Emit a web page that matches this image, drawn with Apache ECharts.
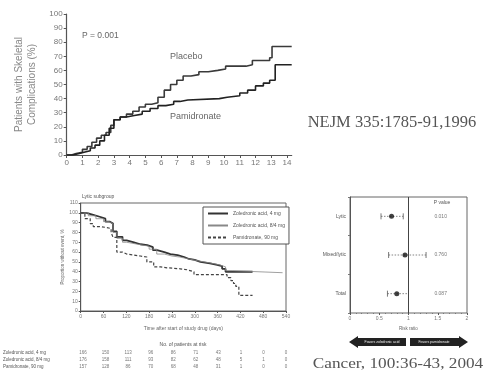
<!DOCTYPE html>
<html>
<head>
<meta charset="utf-8">
<script src="https://cdn.jsdelivr.net/npm/echarts@6/dist/echarts.min.js"></script>
<style>
  html, body { margin: 0; padding: 0; background: #fff; }
  #main { width: 484px; height: 370px; }
</style>
</head>
<body>
<div id="main"></div>
<script>
// top: NEJM 1996, cumulative skeletal complications (months, %)
const placebo = [[0,0],[0.3,1],[0.6,2],[1.0,4],[1.3,6],[1.6,9],[1.9,12],[2.2,14],[2.5,16],[2.8,21],[3.0,25],[3.4,27],[3.8,29],[4.2,31],[4.6,34],[5.0,36],[5.4,37],[5.8,41],[6.2,46],[6.6,50],[7.0,53],[7.4,56],[7.9,57],[8.4,59],[9.0,60],[9.6,61],[10.1,63],[10.8,63],[11.4,64],[11.8,67],[12.4,67],[12.9,69],[13.05,77],[14.3,77]];
const pamidronate = [[0,0],[0.4,1],[0.8,2],[1.1,3],[1.5,5],[1.8,7],[2.1,10],[2.4,14],[2.7,19],[3.0,25],[3.4,27],[3.8,28],[4.3,29],[4.8,31],[5.3,33],[5.8,35],[6.3,36],[6.8,38],[7.2,39],[7.7,40],[9.7,41],[10.2,42],[11.0,44],[11.5,46],[12.0,49],[12.5,51],[12.9,53],[13.25,64],[14.3,64]];
const monthTicks = [0,1,2,3,4,5,6,7,8,9,10,11,12,13,14];

// bottom left: Cancer 2004, lytic subgroup (days, % without event)
const zol4 = [[0,100],[15,98],[33,96],[50,94],[65,91],[77,89],[85,81],[95,75.5],[110,72],[121,70],[140,68],[157,67],[175,65],[190,62],[201,60],[220,58],[236,57],[255,55],[272,53],[285,52],[300,50],[315,48.5],[340,47],[359,45.7],[372,43],[381,40],[452,40]];
const zol84 = [[0,100],[20,97],[40,94],[60,91],[75,89],[85,80],[95,74],[110,70],[121,68],[150,66],[180,63],[200,58],[220,56],[240,55],[260,53],[285,51],[310,49],[340,47],[365,45],[381,41],[400,39],[531,39]];
const pam90 = [[0,100],[11,94],[25,89],[33,86],[50,85],[69,84],[80,80],[85,75],[95,60],[110,58],[121,57],[140,56],[157,55],[174,50],[192,45],[210,44],[227,43],[262,42],[280,40],[298,37],[368,37],[385,34],[395,31],[402,28],[408,25],[416,16],[452,16]];
const seriesNames = ['Zoledronic acid, 4 mg', 'Zoledronic acid, 8/4 mg', 'Pamidronate, 90 mg'];

// patients at risk
const riskDays = [0,60,120,180,240,300,360,420,480,540];
const riskRows = [
  [166,150,113,96,86,71,43,1,0,0],
  [176,158,111,93,82,62,48,5,1,0],
  [157,128,86,70,68,48,31,1,0,0]
];

// bottom right: risk ratios
const subgroups = ['Lytic', 'Mixed/lytic', 'Total'];
const ratio = [0.71, 0.94, 0.80];
const ciLow = [0.53, 0.66, 0.64];
const ciHigh = [0.91, 1.30, 1.0];
const pValues = ['0.010', '0.760', '0.087'];

const myChart = echarts.init(document.getElementById('main'));
const sans = 'Liberation Sans, Arial, sans-serif';
const serif = 'Liberation Serif, Times New Roman, serif';

const riskData = [];
riskRows.forEach(function (row, r) {
  row.forEach(function (v, c) {
    riskData.push([riskDays[c], r, v]);
  });
});

const tinyAxis = function (size) {
  return {
    axisLine: { lineStyle: { color: '#555', width: 1 } },
    axisTick: { show: true, length: 2, lineStyle: { color: '#555' } },
    axisLabel: { color: '#777', fontSize: size, fontFamily: sans, margin: 3 },
    splitLine: { show: false }
  };
};

const option = {
  animation: false,
  backgroundColor: '#fff',
  grid: [
    { left: 66.7, right: 192.3, top: 14, bottom: 215 },
    { left: 80.7, right: 198, top: 203, bottom: 59, show: true, borderColor: '#666', borderWidth: 1 },
    { left: 80.7, right: 198, top: 349, height: 24 },
    { left: 350, right: 17, top: 197, bottom: 57, show: true, borderColor: '#666', borderWidth: 1 }
  ],
  legend: {
    data: seriesNames,
    orient: 'vertical',
    left: 203,
    top: 207,
    padding: [4, 4, 4, 4],
    itemGap: 7,
    itemWidth: 20,
    itemHeight: 5,
    borderColor: '#555',
    borderWidth: 1,
    backgroundColor: '#fff',
    itemStyle: { opacity: 0 },
    textStyle: { fontSize: 5, color: '#555', fontFamily: sans }
  },
  xAxis: [
    Object.assign(tinyAxis(8), {
      gridIndex: 0, type: 'value', min: 0, max: 14.3, interval: 1,
      axisLine: { lineStyle: { color: '#555', width: 1.2 } },
      axisTick: { show: true, length: 3, customValues: monthTicks, lineStyle: { color: '#555' } },
      axisLabel: { color: '#777', fontSize: 8, fontFamily: sans, margin: 4, customValues: monthTicks }
    }),
    Object.assign(tinyAxis(5), {
      gridIndex: 1, type: 'value', min: 0, max: 540, interval: 60,
      name: 'Time after start of study drug (days)', nameLocation: 'middle', nameGap: 15,
      nameTextStyle: { fontSize: 5, color: '#666', fontFamily: sans }
    }),
    { gridIndex: 2, type: 'value', min: 0, max: 540, show: false },
    Object.assign(tinyAxis(5), {
      gridIndex: 3, type: 'value', min: 0, max: 2, interval: 0.5,
      minorTick: { show: true, splitNumber: 5, length: 1, lineStyle: { color: '#777' } },
      name: 'Risk ratio', nameLocation: 'middle', nameGap: 13,
      nameTextStyle: { fontSize: 4.5, color: '#666', fontFamily: sans }
    })
  ],
  yAxis: [
    Object.assign(tinyAxis(8), {
      gridIndex: 0, type: 'value', min: 0, max: 100, interval: 10,
      axisLine: { show: true, lineStyle: { color: '#555', width: 1.2 } },
      axisTick: { show: true, length: 3, lineStyle: { color: '#555' } },
      axisLabel: { color: '#777', fontSize: 8, fontFamily: sans, margin: 4 },
      name: 'Patients with Skeletal\nComplications (%)', nameLocation: 'middle', nameGap: 28,
      nameTextStyle: { fontSize: 10, color: '#888', fontFamily: sans, lineHeight: 13 }
    }),
    Object.assign(tinyAxis(5), {
      gridIndex: 1, type: 'value', min: 0, max: 110, interval: 10,
      axisLine: { show: true, lineStyle: { color: '#555' } },
      name: 'Proportion without event, %', nameLocation: 'middle', nameGap: 14,
      nameTextStyle: { fontSize: 4.5, color: '#666', fontFamily: sans }
    }),
    {
      gridIndex: 2, type: 'category', data: seriesNames, inverse: true,
      axisLine: { show: false }, axisTick: { show: false }, splitLine: { show: false },
      axisLabel: { interval: 0, hideOverlap: false, align: 'left', margin: 80, fontSize: 4.5, color: '#555', fontFamily: sans }
    },
    Object.assign(tinyAxis(5), {
      gridIndex: 3, type: 'category', data: subgroups, inverse: true,
      axisLine: { show: true, lineStyle: { color: '#555' } },
      axisTick: { show: true, length: 2, lineStyle: { color: '#777' } },
      axisLabel: { color: '#555', fontSize: 5, fontFamily: sans, margin: 4 }
    })
  ],
  series: [
    {
      name: 'Placebo', type: 'line', xAxisIndex: 0, yAxisIndex: 0, step: 'end',
      symbol: 'none', data: placebo, lineStyle: { color: '#3a3a3a', width: 1.6 }
    },
    {
      name: 'Pamidronate', type: 'line', xAxisIndex: 0, yAxisIndex: 0, step: 'end',
      symbol: 'none', data: pamidronate, lineStyle: { color: '#222', width: 1.6 }
    },
    {
      name: seriesNames[0], type: 'line', xAxisIndex: 1, yAxisIndex: 1, step: 'end',
      symbol: 'none', data: zol4, color: '#333', lineStyle: { color: '#333', width: 1.8 }
    },
    {
      name: seriesNames[1], type: 'line', xAxisIndex: 1, yAxisIndex: 1, step: 'end',
      symbol: 'none', data: zol84, color: '#888', lineStyle: { color: '#888', width: 0.8 }
    },
    {
      name: seriesNames[2], type: 'line', xAxisIndex: 1, yAxisIndex: 1, step: 'end',
      symbol: 'none', data: pam90, color: '#444', lineStyle: { color: '#444', width: 1.2, type: [3, 2] }
    },
    {
      name: 'at risk', type: 'scatter', xAxisIndex: 2, yAxisIndex: 2,
      symbolSize: 0, data: riskData,
      label: {
        show: true, position: 'inside', fontSize: 4.5, color: '#555', fontFamily: sans,
        formatter: function (p) { return p.value[2]; }
      }
    },
    {
      name: 'ci', type: 'custom', xAxisIndex: 3, yAxisIndex: 3,
      data: subgroups.map(function (s, i) { return [ciLow[i], ciHigh[i], i]; }),
      renderItem: function (params, api) {
        const a = api.coord([api.value(0), api.value(2)]);
        const b = api.coord([api.value(1), api.value(2)]);
        const style = { stroke: '#555', lineWidth: 0.8 };
        return {
          type: 'group',
          children: [
            { type: 'line', shape: { x1: a[0], y1: a[1], x2: b[0], y2: b[1] }, style: { stroke: '#666', lineWidth: 0.8, lineDash: [1.5, 1.5] } },
            { type: 'line', shape: { x1: a[0], y1: a[1] - 3, x2: a[0], y2: a[1] + 3 }, style: style },
            { type: 'line', shape: { x1: b[0], y1: b[1] - 3, x2: b[0], y2: b[1] + 3 }, style: style }
          ]
        };
      }
    },
    {
      name: 'ratio', type: 'scatter', xAxisIndex: 3, yAxisIndex: 3,
      symbolSize: 5, itemStyle: { color: '#111' },
      data: subgroups.map(function (s, i) { return [ratio[i], i]; }),
      markLine: {
        silent: true, symbol: 'none', label: { show: false },
        lineStyle: { color: '#444', width: 1, type: 'solid' },
        data: [{ xAxis: 1 }]
      }
    },
    {
      name: 'p', type: 'scatter', xAxisIndex: 3, yAxisIndex: 3, symbolSize: 0,
      data: subgroups.map(function (s, i) { return [1.55, i, pValues[i]]; }),
      label: {
        show: true, position: 'inside', fontSize: 5, color: '#555', fontFamily: sans,
        formatter: function (p) { return p.value[2]; }
      }
    }
  ],
  graphic: [
    { type: 'text', x: 82, y: 36, style: { text: 'P = 0.001', fontSize: 8.5, fontFamily: sans, fill: '#666', verticalAlign: 'middle' } },
    { type: 'text', x: 170, y: 57, style: { text: 'Placebo', fontSize: 9, fontFamily: sans, fill: '#666', verticalAlign: 'middle' } },
    { type: 'text', x: 170, y: 117, style: { text: 'Pamidronate', fontSize: 9, fontFamily: sans, fill: '#666', verticalAlign: 'middle' } },
    { type: 'text', x: 392, y: 123, style: { text: 'NEJM 335:1785-91,1996', fontSize: 16.5, fontFamily: serif, fill: '#555', align: 'center', verticalAlign: 'middle' } },
    { type: 'text', x: 82, y: 197, style: { text: 'Lytic subgroup', fontSize: 5, fontFamily: sans, fill: '#555', verticalAlign: 'middle' } },
    { type: 'text', x: 183, y: 345, style: { text: 'No. of patients at risk', fontSize: 5, fontFamily: sans, fill: '#555', align: 'center', verticalAlign: 'middle' } },
    { type: 'text', x: 442, y: 203, style: { text: 'P value', fontSize: 5, fontFamily: sans, fill: '#555', align: 'center', verticalAlign: 'middle' } },
    {
      type: 'polygon',
      shape: { points: [[349,342],[358,336],[358,338],[406,338],[406,346],[358,346],[358,348]] },
      style: { fill: '#222' }
    },
    {
      type: 'polygon',
      shape: { points: [[468,342],[459,336],[459,338],[410,338],[410,346],[459,346],[459,348]] },
      style: { fill: '#222' }
    },
    { type: 'text', x: 382, y: 342, style: { text: 'Favors zoledronic acid', fontSize: 3.5, fontFamily: sans, fill: '#eee', align: 'center', verticalAlign: 'middle' } },
    { type: 'text', x: 434, y: 342, style: { text: 'Favors pamidronate', fontSize: 3.5, fontFamily: sans, fill: '#eee', align: 'center', verticalAlign: 'middle' } },
    { type: 'text', x: 398, y: 364, scaleX: 1.11, style: { text: 'Cancer, 100:36-43, 2004', fontSize: 15.5, fontFamily: serif, fill: '#555', align: 'center', verticalAlign: 'middle' } }
  ]
};

myChart.setOption(option);
</script>
</body>
</html>
